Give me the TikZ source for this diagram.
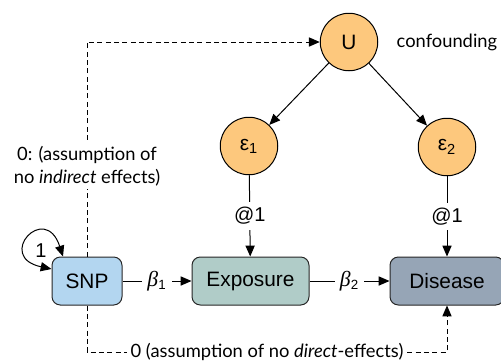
\documentclass[tikz,border=0pt]{standalone}
\usepackage{amsmath}
\usepackage{fontspec}
\setmainfont{Liberation Sans}
\newfontfamily\notefont{Lato}
\newfontfamily\coeffont{Liberation Serif}
\usetikzlibrary{arrows.meta}
\definecolor{latentfill}{HTML}{FDC87D}
\definecolor{snpfill}{HTML}{B3D6F0}
\definecolor{expfill}{HTML}{B0CCC8}
\definecolor{disfill}{HTML}{96A5B6}

\begin{document}
\begin{tikzpicture}[x=0.6pt,y=0.6pt,
        latent/.style={circle,draw=black,fill=latentfill,line width=0.6pt,minimum size=34.5pt,inner sep=0pt,font=\fontsize{12.5}{14}\selectfont},
        observed/.style={rectangle,rounded corners=5pt,draw=black!85,line width=0.6pt,minimum height=28.8pt,inner sep=0pt,font=\fontsize{12.5}{14}\selectfont},
        causal/.style={-{Triangle[length=6.5pt,width=5.5pt]},line width=0.6pt},
        twoway/.style={{Triangle[length=6.5pt,width=5.5pt]}-{Triangle[length=6.5pt,width=5.5pt]},line width=0.6pt},
        assume/.style={causal,dash pattern=on 3pt off 2pt},
        coef/.style={fill=white,inner sep=3pt,font=\fontsize{12}{14}\selectfont},
        note/.style={fill=white,inner sep=2pt,align=center,font=\notefont\fontsize{11}{13.5}\selectfont}]
                \useasboundingbox (0,0) rectangle (501,360);
                \node[latent] (u) at (349,318) {U};
                \node[latent] (e1) at (249,214) {ε\textsubscript{1}};
                \node[latent] (e2) at (447,213) {ε\textsubscript{2}};
                \node[observed,fill=snpfill,minimum width=42pt] (snp) at (87,79) {SNP};
                \node[observed,fill=expfill,minimum width=70.2pt] (exposure) at (250.5,79) {Exposure};
                \node[observed,fill=disfill,minimum width=68.4pt] (disease) at (447,79) {Disease};
                \node[note,fill=none,anchor=west] (conf) at (393,318) {confounding};
                \node[coef,fill=none] (selfval) at (41,109) {1};
                \coordinate (base) at (0,8);
                \draw[causal] (u) -- (e1);
                \draw[causal] (u) -- (e2);
                \draw[causal] (e1) -- node[coef]{@1} (exposure);
                \draw[causal] (e2) -- node[coef]{@1} (disease);
                \draw[causal] (snp) -- node[coef]{{\coeffont\itshape\fontsize{13}{14}\selectfont β}\textsubscript{1}} (exposure);
                \draw[causal] (exposure) -- node[coef]{{\coeffont\itshape\fontsize{13}{14}\selectfont β}\textsubscript{2}} (disease);
                \draw[twoway] ([shift={(-24,0)}]snp.north) .. controls +(108:58) and +(168:58) .. ([shift={(0,12)}]snp.west);
                \draw[assume] (snp.north) |- node[note,pos=0.21]{0: (assumption of\\no \textit{indirect} effects)} (u.west);
                \draw[assume] (snp.south) |- node[note,pos=0.75]{0 (assumption of no \textit{direct}-effects)} (base -| disease.south) -- (disease.south);
            \end{tikzpicture}
\end{document}
